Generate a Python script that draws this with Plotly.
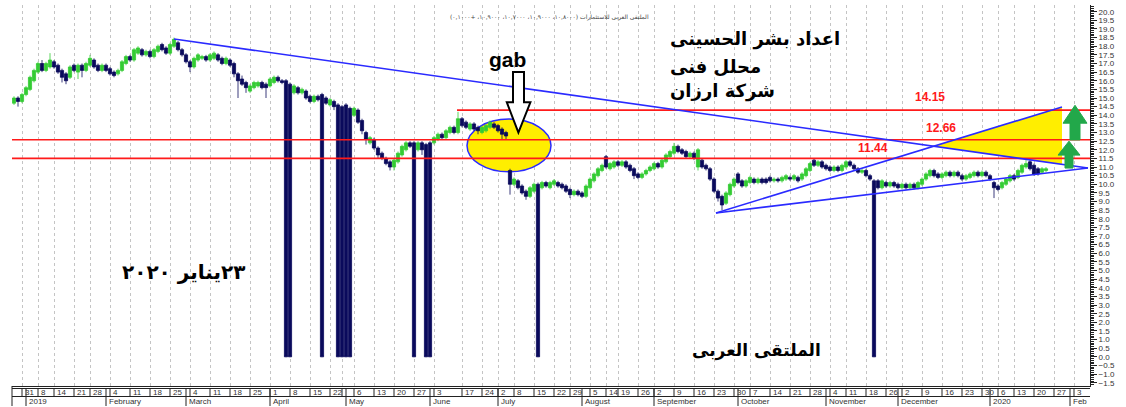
import pandas as pd
import plotly.graph_objects as go

# ---------------- calendar (Egyptian exchange: Sun-Thu) ----------------
start_day = "2018-12-27"
end_day = "2020-02-06"
holidays = ["2019-01-01", "2019-01-07", "2019-01-24", "2019-04-25", "2019-04-28",
            "2019-04-29", "2019-05-01", "2019-06-04", "2019-06-05", "2019-06-06",
            "2019-06-30", "2019-07-01", "2019-07-23", "2019-08-11", "2019-08-12",
            "2019-08-13", "2019-09-01", "2019-10-06", "2019-11-10", "2019-11-25",
            "2020-01-01", "2020-01-07"]

# ---------------- daily prices ----------------
opens = [
    14.7, 15.0, 14.8, 15.2, 15.5, 16.0, 16.5, 17.0, 16.6, 16.8,
    17.1, 16.9, 16.6, 16.4, 16.2, 16.9, 16.5, 16.9, 16.6, 16.9,
    17.2, 16.9, 16.6, 16.9, 16.7, 16.5, 16.4, 16.6, 17.0, 17.4,
    17.2, 17.6, 17.8, 17.5, 17.7, 17.4, 17.7, 18.1, 17.9, 17.6,
    18.0, 18.2, 17.8, 17.5, 17.1, 16.8, 17.2, 17.3, 17.4, 17.2,
    17.3, 17.5, 17.3, 17.0, 17.2, 17.0, 16.4, 16.1, 15.9, 15.4,
    15.6, 15.7, 15.9, 15.8, 15.7, 15.9, 16.2, 16.0, 16.0, 15.8,
    15.3, 15.6, 15.3, 15.4, 15.1, 14.8, 15.1, 15.2, 15.0, 14.6,
    14.8, 14.6, 14.5, 14.6, 14.4, 14.0, 14.3, 13.7, 13.0, 12.4,
    12.6, 12.1, 11.8, 11.5, 11.3, 11.0, 11.3, 11.7, 12.0, 12.4,
    12.4, 12.0, 12.4, 12.3, 12.4, 12.4, 12.6, 12.9, 12.7, 13.0,
    13.3, 13.0, 13.8, 13.6, 13.2, 13.5, 13.3, 13.0, 13.1, 13.3,
    13.5, 13.4, 13.2, 13.0, 10.8, 10.0, 10.2, 9.9, 9.6, 9.3,
    9.6, 10.0, 9.8, 10.1, 9.8, 10.0, 10.1, 10.0, 9.9, 9.7,
    9.4, 9.6, 9.5, 9.3, 9.8, 10.2, 10.5, 10.8, 11.6, 10.9,
    11.0, 11.3, 11.1, 11.3, 11.1, 10.9, 10.6, 10.4, 10.6, 10.8,
    10.9, 11.2, 11.0, 11.3, 11.6, 11.8, 12.2, 12.0, 11.9, 11.6,
    11.8, 11.0, 11.4, 11.1, 10.9, 10.3, 9.6, 9.3, 8.9, 9.4,
    9.9, 10.6, 10.2, 9.9, 10.1, 10.3, 10.1, 10.3, 10.3, 10.4,
    10.2, 10.3, 10.2, 10.3, 10.4, 10.3, 10.4, 10.3, 10.5, 10.8,
    11.4, 11.1, 11.3, 11.1, 11.0, 10.8, 11.0, 10.8, 11.0, 11.3,
    11.1, 10.9, 10.7, 10.8, 10.5, 10.2, 10.2, 9.8, 10.1, 9.9,
    10.1, 10.0, 9.8, 10.0, 9.8, 10.0, 9.8, 10.0, 10.3, 10.5,
    10.8, 10.6, 10.4, 10.5, 10.7, 10.5, 10.7, 10.5, 10.3, 10.4,
    10.5, 10.7, 10.5, 10.7, 10.5, 10.1, 9.9, 9.8, 10.0, 10.2,
    10.5, 10.4, 10.7, 11.0, 11.3, 11.1, 10.9, 10.7, 10.8,
]
highs = [
    15.1, 15.1, 15.3, 15.7, 16.3, 16.7, 17.1, 17.2, 17.1, 17.6,
    17.2, 17.0, 16.7, 16.5, 16.9, 17.0, 17.0, 17.0, 17.1, 17.5,
    17.3, 17.0, 17.0, 17.0, 16.8, 16.6, 16.7, 17.2, 17.5, 17.5,
    17.9, 18.0, 17.9, 17.8, 17.8, 17.9, 18.1, 18.2, 18.0, 18.2,
    18.5, 18.3, 17.9, 17.6, 17.2, 17.4, 17.6, 17.5, 17.5, 17.6,
    17.7, 17.6, 17.4, 17.4, 17.3, 17.1, 16.5, 16.3, 16.0, 15.8,
    16.0, 16.0, 16.0, 15.9, 16.2, 16.3, 16.3, 16.1, 16.1, 15.9,
    15.8, 15.7, 15.6, 15.5, 15.2, 15.2, 15.2, 15.3, 15.1, 15.0,
    14.9, 14.7, 14.6, 14.7, 14.5, 14.5, 14.4, 13.8, 13.1, 12.8,
    12.7, 12.2, 11.9, 11.6, 11.4, 11.5, 11.9, 12.3, 12.5, 12.5,
    12.5, 12.5, 12.5, 12.4, 12.5, 12.8, 13.0, 13.0, 13.2, 13.4,
    13.4, 14.2, 13.9, 13.7, 13.6, 13.6, 13.4, 13.4, 13.5, 13.7,
    13.6, 13.5, 13.3, 13.1, 10.9, 10.4, 10.3, 10.0, 9.7, 9.9,
    10.1, 10.1, 10.2, 10.2, 10.2, 10.3, 10.2, 10.1, 10.0, 9.8,
    9.7, 9.7, 9.6, 10.0, 10.4, 10.7, 11.0, 11.2, 11.7, 11.3,
    11.4, 11.4, 11.4, 11.4, 11.2, 11.0, 10.7, 10.7, 10.9, 11.1,
    11.3, 11.3, 11.5, 11.8, 12.0, 12.4, 12.3, 12.1, 12.0, 11.9,
    11.9, 12.1, 11.5, 11.2, 11.0, 10.4, 9.7, 9.4, 9.6, 10.1,
    10.4, 10.7, 10.3, 10.3, 10.5, 10.4, 10.4, 10.4, 10.4, 10.5,
    10.4, 10.4, 10.5, 10.6, 10.5, 10.6, 10.5, 10.7, 11.0, 11.3,
    11.5, 11.4, 11.4, 11.2, 11.1, 11.1, 11.1, 11.2, 11.4, 11.4,
    11.2, 11.0, 10.9, 10.9, 10.6, 10.3, 10.3, 10.3, 10.2, 10.2,
    10.2, 10.1, 10.1, 10.1, 10.1, 10.1, 10.2, 10.4, 10.7, 10.9,
    10.9, 10.7, 10.7, 10.8, 10.8, 10.8, 10.8, 10.6, 10.6, 10.7,
    10.8, 10.8, 10.8, 10.8, 10.6, 10.2, 10.0, 10.2, 10.4, 10.6,
    10.6, 10.9, 11.2, 11.4, 11.4, 11.2, 11.0, 11.0, 11.0,
]
lows = [
    14.6, 14.5, 14.7, 15.1, 15.4, 15.9, 16.4, 16.5, 16.5, 16.7,
    16.7, 16.4, 15.9, 15.8, 16.1, 16.5, 16.1, 16.2, 16.5, 16.8,
    16.7, 16.5, 16.5, 16.5, 16.3, 16.2, 16.3, 16.5, 16.9, 17.1,
    17.1, 17.5, 17.4, 17.4, 17.3, 17.3, 17.6, 17.7, 17.5, 17.5,
    17.9, 17.7, 17.4, 17.0, 16.5, 16.7, 17.1, 17.2, 17.1, 17.1,
    17.2, 17.1, 16.9, 16.9, 16.8, 16.2, 15.0, 15.7, 15.3, 15.3,
    15.5, 15.6, 15.5, 15.0, 15.6, 15.8, 15.9, 15.8, 0.0, 0.0,
    15.2, 15.2, 15.2, 14.9, 14.7, 14.7, 14.8, 0.0, 14.6, 14.5,
    14.3, 0.0, 0.0, 0.0, 0.0, 13.9, 13.5, 12.9, 12.3, 12.3,
    12.0, 11.5, 11.4, 11.1, 10.8, 10.8, 11.2, 11.6, 11.9, 12.1,
    0.0, 11.9, 11.7, 0.0, 0.0, 12.3, 12.5, 12.6, 12.6, 12.9,
    12.9, 12.9, 13.3, 13.2, 13.1, 13.1, 12.9, 12.9, 13.0, 13.2,
    13.2, 13.0, 12.6, 12.6, 9.4, 9.9, 9.7, 9.4, 9.1, 9.2,
    9.5, 0.0, 9.7, 9.8, 9.7, 9.9, 9.8, 9.7, 9.5, 9.2,
    9.3, 9.3, 9.2, 9.2, 9.7, 10.1, 10.4, 10.7, 10.9, 10.8,
    10.9, 11.0, 11.0, 10.9, 10.7, 10.3, 10.3, 10.3, 10.5, 10.7,
    10.8, 10.9, 10.9, 11.2, 11.5, 11.7, 11.8, 11.7, 11.5, 11.5,
    11.4, 10.8, 10.9, 10.8, 10.2, 9.5, 9.0, 8.5, 8.8, 9.3,
    9.8, 10.0, 9.8, 9.8, 10.0, 10.0, 10.0, 10.0, 10.0, 10.1,
    10.1, 10.1, 10.1, 10.2, 10.2, 10.2, 10.1, 10.2, 10.4, 10.7,
    11.0, 11.0, 10.9, 10.8, 10.7, 10.7, 10.7, 10.7, 10.9, 11.0,
    10.8, 10.6, 10.6, 10.4, 10.2, 0.0, 9.7, 9.7, 9.8, 9.8,
    9.8, 9.7, 9.7, 9.7, 9.7, 9.7, 9.7, 9.9, 10.2, 10.4,
    10.4, 10.3, 10.3, 10.4, 10.4, 10.4, 10.4, 10.2, 10.2, 10.3,
    10.4, 10.4, 10.4, 10.4, 10.2, 9.2, 9.6, 9.7, 9.9, 10.1,
    10.2, 10.3, 10.6, 10.9, 10.8, 10.5, 10.5, 10.6, 10.7,
]
closes = [
    15.0, 14.8, 15.2, 15.6, 16.2, 16.6, 17.0, 16.6, 17.0, 17.2,
    16.8, 16.5, 16.2, 16.0, 16.8, 16.6, 16.9, 16.6, 17.0, 17.3,
    16.8, 16.6, 16.9, 16.6, 16.4, 16.3, 16.6, 17.1, 17.4, 17.2,
    17.8, 17.9, 17.5, 17.7, 17.4, 17.8, 18.0, 17.8, 17.6, 18.1,
    18.4, 17.8, 17.5, 17.1, 16.8, 17.3, 17.5, 17.4, 17.2, 17.5,
    17.6, 17.2, 17.0, 17.3, 16.9, 16.4, 16.0, 15.8, 15.6, 15.7,
    15.9, 15.9, 15.6, 15.6, 16.1, 16.2, 16.0, 15.9, 0.0, 0.0,
    15.7, 15.3, 15.5, 15.0, 14.8, 15.1, 14.9, 0.0, 14.7, 14.9,
    14.5, 0.0, 0.0, 0.0, 0.0, 14.4, 13.6, 13.1, 12.6, 12.7,
    12.1, 11.7, 11.5, 11.2, 11.0, 11.4, 11.8, 12.2, 12.4, 12.2,
    0.0, 12.4, 12.0, 0.0, 0.0, 12.7, 12.9, 12.7, 13.1, 13.3,
    13.0, 13.8, 13.4, 13.3, 13.5, 13.2, 13.1, 13.3, 13.4, 13.6,
    13.3, 13.1, 12.9, 12.8, 10.0, 10.3, 9.8, 9.5, 9.3, 9.8,
    10.0, 0.0, 10.1, 9.9, 10.1, 10.2, 9.9, 9.8, 9.6, 9.4,
    9.6, 9.4, 9.3, 9.9, 10.3, 10.6, 10.9, 11.1, 11.0, 11.2,
    11.3, 11.1, 11.3, 11.0, 10.8, 10.5, 10.4, 10.6, 10.8, 11.0,
    11.2, 11.0, 11.4, 11.7, 11.9, 12.2, 11.9, 11.8, 11.6, 11.8,
    11.5, 12.0, 11.0, 10.9, 10.3, 9.6, 9.2, 8.8, 9.5, 10.0,
    10.3, 10.1, 9.9, 10.2, 10.4, 10.1, 10.3, 10.1, 10.1, 10.2,
    10.3, 10.2, 10.4, 10.5, 10.3, 10.5, 10.2, 10.6, 10.9, 11.2,
    11.1, 11.3, 11.0, 10.9, 10.8, 11.0, 10.8, 11.1, 11.3, 11.1,
    10.9, 10.7, 10.8, 10.5, 10.3, 0.0, 9.8, 10.2, 9.9, 10.1,
    9.9, 9.8, 10.0, 9.8, 10.0, 9.8, 10.1, 10.3, 10.6, 10.8,
    10.5, 10.4, 10.6, 10.7, 10.5, 10.7, 10.5, 10.3, 10.5, 10.6,
    10.7, 10.5, 10.7, 10.5, 10.3, 9.8, 9.7, 10.1, 10.3, 10.5,
    10.3, 10.8, 11.1, 11.2, 10.9, 10.6, 10.6, 10.9, 10.9,
]

# ---------------- axis labels ----------------
tick_dates = ["2018-12-31", "2019-01-08", "2019-01-14", "2019-01-21", "2019-01-28",
              "2019-02-04", "2019-02-11", "2019-02-18", "2019-02-25", "2019-03-04",
              "2019-03-11", "2019-03-18", "2019-03-25", "2019-04-01", "2019-04-08",
              "2019-04-15", "2019-04-22", "2019-04-30", "2019-05-06", "2019-05-13",
              "2019-05-20", "2019-05-27", "2019-06-03", "2019-06-17", "2019-06-24",
              "2019-07-02", "2019-07-08", "2019-07-15", "2019-07-22", "2019-07-29",
              "2019-08-05", "2019-08-14", "2019-08-19", "2019-08-26", "2019-09-02",
              "2019-09-09", "2019-09-16", "2019-09-23", "2019-09-30", "2019-10-07",
              "2019-10-14", "2019-10-21", "2019-10-28", "2019-11-04", "2019-11-11",
              "2019-11-18", "2019-11-26", "2019-12-02", "2019-12-09", "2019-12-16",
              "2019-12-23", "2019-12-30", "2020-01-06", "2020-01-13", "2020-01-20",
              "2020-01-27", "2020-02-03"]
tick_labels = ["31", "8", "14", "21", "28", "4", "11", "18", "25", "4", "11", "18", "25",
               "1", "8", "15", "22", "", "6", "13", "20", "27", "3", "17", "24", "2", "8",
               "15", "22", "29", "5", "14", "19", "26", "2", "9", "16", "23", "30", "7",
               "14", "21", "28", "4", "11", "18", "26", "2", "9", "16", "23", "30", "6",
               "13", "20", "27", "3"]
month_labels = ["2019", "February", "March", "April", "May", "June", "July", "August",
                "September", "October", "November", "December", "2020", "Feb"]

# ---------------- analyst drawings (index, price) ----------------
resistance_line = [(40.0, 18.42), (268.5, 10.94)]
rising_line = [(175.5, 8.34), (262.0, 14.48)]
support_line = [(175.5, 8.34), (268.5, 10.94)]
level_values = [14.30, 12.58, 11.50]
level_starts = [110.75, -0.5, -0.5]
level_texts = ["14.15", "12.66", "11.44"]
level_text_pos = [(229.0, 15.06), (231.75, 13.26), (214.75, 12.10)]
gap_ellipse = (113.25, 10.72, 134.25, 13.78)

# ---------------- figure ----------------
X0, X1 = -0.5, 269.0
Y0, Y1 = -1.69, 20.39
GREEN = "#33cc33"
NAVY = "#0a0a5c"
BLUE = "#2a2aff"
RED = "#ff1a1a"

cal = pd.bdate_range(start_day, end_day, freq="C", weekmask="Sun Mon Tue Wed Thu",
                     holidays=holidays)
pos = {d.strftime("%Y-%m-%d"): k for k, d in enumerate(cal)}
n = len(closes)
xs = list(range(n))
tick_idx = [pos[d] for d in tick_dates]
month_idx = [k for k in range(1, len(cal)) if cal[k].month != cal[k - 1].month and k <= X1]


def px(i):
    return (i - X0) / (X1 - X0)


def py(pix):  # figure pixel row -> paper y (plot bottom is at row 386, 381 px tall)
    return (386 - pix) / 381.0


fig = go.Figure()
fig.add_trace(go.Candlestick(
    x=xs, open=opens, high=highs, low=lows, close=closes,
    increasing=dict(line=dict(color=GREEN, width=0.8), fillcolor=GREEN),
    decreasing=dict(line=dict(color=NAVY, width=0.8), fillcolor=NAVY),
    whiskerwidth=0, showlegend=False, hoverinfo="skip",
))

shapes = []
ex0, ey0, ex1, ey1 = gap_ellipse
shapes.append(dict(type="circle", xref="x", yref="y", x0=ex0, y0=ey0, x1=ex1, y1=ey1,
                   fillcolor="#ffee00", line=dict(color=BLUE, width=1.5), layer="between"))


def line_at(line, x):
    (a, b), (c, d) = line
    return b + (d - b) * (x - a) / (c - a)


(ra, rb), (rc, rd) = resistance_line
(ua, ub), (uc, ud) = rising_line
s1 = (rd - rb) / (rc - ra)
s2 = (ud - ub) / (uc - ua)
xi = (ub - rb + s1 * ra - s2 * ua) / (s1 - s2)
yi = line_at(resistance_line, xi)
xe = rising_line[1][0]
shapes.append(dict(type="path", xref="x", yref="y",
                   path=f"M {xi},{yi} L {xe},{line_at(rising_line, xe)} L {xe},{line_at(resistance_line, xe)} Z",
                   fillcolor="#ffee00", line=dict(width=0), layer="between"))

for v, s in zip(level_values, level_starts):
    shapes.append(dict(type="line", xref="x", yref="y", x0=s, x1=X1, y0=v, y1=v,
                       line=dict(color=RED, width=1.6), layer="above"))
for ln in (resistance_line, rising_line, support_line):
    shapes.append(dict(type="line", xref="x", yref="y", x0=ln[0][0], y0=ln[0][1],
                       x1=ln[1][0], y1=ln[1][1], line=dict(color=BLUE, width=1.6),
                       layer="above"))


def up_arrow(cx, base, tip, neck, head_w, shaft_w):
    return (f"M {cx - shaft_w},{base} L {cx + shaft_w},{base} L {cx + shaft_w},{neck} "
            f"L {cx + head_w},{neck} L {cx},{tip} L {cx - head_w},{neck} "
            f"L {cx - shaft_w},{neck} Z")


shapes.append(dict(type="path", xref="x", yref="y",
                   path=up_arrow(265.25, 12.57, 14.58, 13.54, 3.0, 1.25),
                   fillcolor="#22a84a", line=dict(color="#22a84a", width=1), layer="above"))
shapes.append(dict(type="path", xref="x", yref="y",
                   path=up_arrow(263.75, 10.94, 12.50, 11.69, 2.75, 1.0),
                   fillcolor="#22a84a", line=dict(color="#22a84a", width=1), layer="above"))
shapes.append(dict(type="path", xref="x", yref="y",
                   path="M 124.75,16.5 L 127.5,16.5 L 127.5,14.75 L 129.1,14.75 L 126.1,13.0 "
                        "L 123.2,14.75 L 124.75,14.75 Z",
                   fillcolor="white", line=dict(color="black", width=2), layer="above"))

# ---- bottom date scale (boxes) ----
for yy in (py(388.5), py(396.5)):
    shapes.append(dict(type="line", xref="paper", yref="paper", x0=0, x1=1, y0=yy, y1=yy,
                       line=dict(color="#222", width=1)))
shapes.append(dict(type="line", xref="paper", yref="paper", x0=0, x1=0, y0=0, y1=py(406),
                   line=dict(color="#222", width=1)))
for t in tick_idx:
    shapes.append(dict(type="line", xref="paper", yref="paper", x0=px(t), x1=px(t),
                       y0=py(388.5), y1=py(396.5), line=dict(color="#222", width=1)))
for m in month_idx:
    shapes.append(dict(type="line", xref="paper", yref="paper", x0=px(m), x1=px(m),
                       y0=py(388.5), y1=py(406), line=dict(color="#222", width=1)))

annotations = []
for t, lab in zip(tick_idx, tick_labels):
    annotations.append(dict(x=px(t) + 0.001, y=py(392.5), xref="paper", yref="paper",
                            text=lab, showarrow=False, xanchor="left", yanchor="middle",
                            font=dict(family="Liberation Sans", size=8, color="#333")))
for m, lab in zip(month_idx, month_labels):
    annotations.append(dict(x=px(m) + 0.001, y=py(401.5), xref="paper", yref="paper",
                            text=lab, showarrow=False, xanchor="left", yanchor="middle",
                            font=dict(family="Liberation Sans", size=8, color="#333")))

for txt, (tx, ty) in zip(level_texts, level_text_pos):
    annotations.append(dict(x=tx, y=ty, xref="x", yref="y", text=f"<b>{txt}</b>",
                            showarrow=False, font=dict(family="Liberation Sans", size=12, color=RED)))

annotations.append(dict(x=123.25, y=17.26, xref="x", yref="y", text="<b>gab</b>",
                        showarrow=False, font=dict(family="Liberation Sans", size=21, color="black")))

arabic_font = dict(family="DejaVu Sans", size=18, color="black")
for line_txt, ty in zip(["اعداد بشر الحسينى", "محلل فنى", "شركة ارزان"], [18.42, 16.85, 15.4]):
    annotations.append(dict(x=163.5, y=ty, xref="x", yref="y", text=f"<b>{line_txt}</b>",
                            showarrow=False, xanchor="left", font=arabic_font))
annotations.append(dict(x=42.25, y=4.92, xref="x", yref="y", text="<b>٢٣يناير ٢٠٢٠</b>",
                        showarrow=False, font=dict(family="DejaVu Sans", size=20, color="black")))
annotations.append(dict(x=185.5, y=0.34, xref="x", yref="y", text="<b>الملتقى العربى</b>",
                        showarrow=False, font=dict(family="DejaVu Sans", size=17, color="black")))
annotations.append(dict(x=133.75, y=py(11), xref="x", yref="paper",
                        text="الملتقى العربى للاستثمارات (١٠,٨٠٠٠، ١٠,٩٠٠٠، ١٠,٧٠٠٠، ١٠,٩٠٠٠، +٠,١٠٠٠)",
                        showarrow=False, font=dict(family="DejaVu Sans", size=6, color="#444")))

fig.update_layout(
    width=1126, height=407, autosize=False,
    margin=dict(l=12, r=36, t=5, b=21),
    paper_bgcolor="white", plot_bgcolor="white",
    showlegend=False, boxgap=0.2, boxgroupgap=0,
    shapes=shapes, annotations=annotations,
    xaxis=dict(range=[X0, X1], tickmode="array", tickvals=tick_idx, showticklabels=False,
               ticks="", showgrid=True, gridcolor="#c4c4c4", griddash="3px,3px", gridwidth=1,
               zeroline=False, showline=True, linecolor="#222", linewidth=1,
               rangeslider=dict(visible=False), fixedrange=True),
    yaxis=dict(range=[Y0, Y1], side="right", dtick=0.5, tick0=0, tickformat=".1f",
               ticks="outside", ticklen=6, tickcolor="#222", showgrid=False, zeroline=False,
               showline=True, linecolor="#222", linewidth=1,
               tickfont=dict(family="Liberation Sans", size=8, color="#333"),
               minor=dict(dtick=0.1, ticks="outside", ticklen=3, tickcolor="#222")),
)

fig.write_html("out.html", config={"displayModeBar": False},
               post_script="document.body.style.margin='0px';document.body.style.overflow='hidden';")
